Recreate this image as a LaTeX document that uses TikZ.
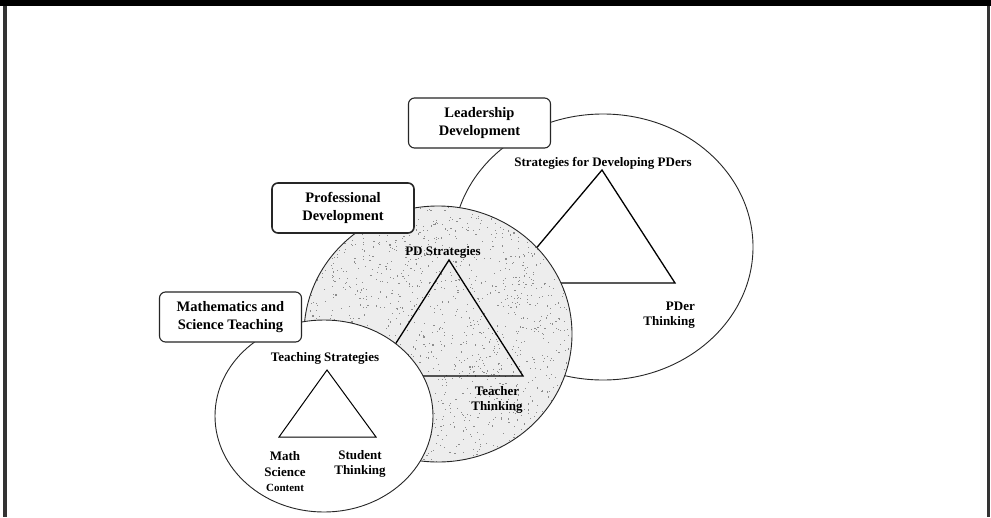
\documentclass[tikz,border=0pt]{standalone}
\usepackage{fontspec}
\setmainfont{Liberation Serif}
\begin{document}
\begin{tikzpicture}[x=1pt,y=-1pt,
  ring/.style={draw=black!85, line width=0.9pt},
  tri/.style={draw=black, line width=1.3pt, line join=miter},
  speck/.style={fill=black!45},
  tag/.style={draw=black!85, line width=1.1pt, rounded corners=6pt, fill=white,
    minimum width=142pt, minimum height=50pt, align=center, inner sep=0pt,
    font=\bfseries\fontsize{14.5}{17.5}\selectfont},
  lbl/.style={align=center, inner sep=0pt,
    font=\bfseries\fontsize{13}{15.5}\selectfont}]
\useasboundingbox (0,0) rectangle (991,517);
\fill[white] (0,0) rectangle (991,517);
% page frame
\fill[black] (0,0) rectangle (991,6);
\fill[black!80] (3,6) rectangle (7,517);
\fill[black!80] (987,6) rectangle (990,517);

% leadership development ring and triangle
\draw[ring, fill=white] (603,247) ellipse [x radius=150pt, y radius=133pt];
\draw[tri] (602,170) -- (675,283) -- (507,283) -- cycle;

% professional development ring: pale fill with a stippled texture
\fill[black!7] (438,334) ellipse [x radius=134pt, y radius=128pt];
\begin{scope}
  \clip (438,334) ellipse [x radius=134pt, y radius=128pt];
  \pgfmathsetseed{4217}
  \foreach \k in {1,...,1600} {
    \fill[speck] ({438+134*rand},{334+128*rand}) rectangle ++(1.1,1.1);
  }
\end{scope}
\draw[ring] (438,334) ellipse [x radius=134pt, y radius=128pt];
\draw[tri] (449,260) -- (523,376) -- (375,376) -- cycle;

% mathematics and science teaching ring and triangle
\draw[ring, fill=white] (324,416) ellipse [x radius=109pt, y radius=96pt];
\draw[tri, line width=1pt] (327,370) -- (376,437) -- (279,437) -- cycle;

% labelled boxes
\node[tag] (lead) at (479.5,123) {Leadership\\Development};
\node[tag, line width=1.6pt] (prof) at (343,208) {Professional\\Development};
\node[tag] (mst) at (230.5,317) {Mathematics and\\Science Teaching};

% vertex labels
\node[lbl] (ldstrat) at (603,163) {Strategies for Developing PDers};
\node[lbl, align=right, anchor=east] (pdert) at (695,315) {PDer\\Thinking};
\node[lbl] (pdstrat) at (443,252) {PD Strategies};
\node[lbl] (teachth) at (497,400) {Teacher\\Thinking};
\node[lbl] (teachst) at (325,358) {Teaching Strategies};
\node[lbl] (msc) at (285,472) {Math\\Science\\\fontsize{11}{14}\selectfont Content};
\node[lbl] (studth) at (360,464) {Student\\Thinking};
\end{tikzpicture}
\end{document}
